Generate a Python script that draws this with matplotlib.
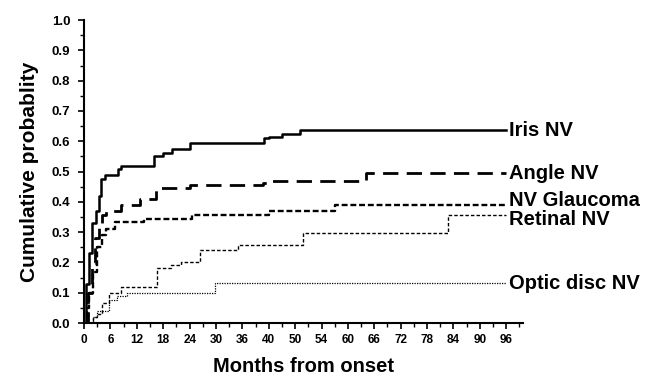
import matplotlib
matplotlib.use('Agg')
import matplotlib.pyplot as plt
from matplotlib.ticker import MultipleLocator

plt.rcParams['font.family'] = ['Liberation Sans', 'DejaVu Sans']

# step change points (months, cumulative probability)
iris_t = [0, 0.5, 1.0, 1.9, 2.7, 3.4, 3.8, 4.8, 7.8, 8.4, 16, 18, 20, 24, 41, 42, 45, 49, 96]
iris_p = [0, 0.13, 0.23, 0.33, 0.37, 0.42, 0.475, 0.49, 0.51, 0.52, 0.55, 0.56, 0.575, 0.594, 0.61, 0.615, 0.625, 0.636, 0.636]
angle_t = [0, 0.9, 1.7, 2.5, 3.3, 4.0, 5.0, 8.5, 12.7, 16.3, 24, 40.7, 42, 64, 96]
angle_p = [0, 0.098, 0.197, 0.28, 0.33, 0.355, 0.37, 0.39, 0.41, 0.445, 0.455, 0.462, 0.47, 0.494, 0.494]
glauc_t = [0, 0.6, 1.2, 2.0, 3.0, 4.0, 5.0, 7.0, 13.6, 24.5, 42, 57, 96]
glauc_p = [0, 0.05, 0.1, 0.17, 0.25, 0.29, 0.31, 0.333, 0.345, 0.355, 0.37, 0.39, 0.39]
retinal_t = [0, 2.1, 3.0, 4.0, 5.6, 8.5, 16.5, 19.8, 22, 26.4, 35, 49.8, 82.8, 96]
retinal_p = [0, 0.02, 0.03, 0.065, 0.1, 0.119, 0.18, 0.19, 0.2, 0.24, 0.256, 0.296, 0.355, 0.355]
optic_t = [0, 2.0, 3.0, 5.6, 7.5, 9.8, 29.8, 96]
optic_p = [0, 0.02, 0.04, 0.075, 0.09, 0.1, 0.131, 0.131]

xticks = list(range(0, 97, 6))
xtick_labels = ['0', '6', '12', '18', '24', '30', '36', '40', '50', '54', '60', '66', '72', '78', '84', '90', '96']

# name, data, line style, label offset (points)
series = [
    ('Iris NV', iris_t, iris_p, dict(ls='-', lw=1.8), 0),
    ('Angle NV', angle_t, angle_p, dict(ls=(0, (5.5, 3)), lw=2.0), 0),
    ('NV Glaucoma', glauc_t, glauc_p, dict(ls=(0, (2.5, 1.2)), lw=1.7), 3),
    ('Retinal NV', retinal_t, retinal_p, dict(ls=(0, (2.5, 1.5)), lw=1.0), -3),
    ('Optic disc NV', optic_t, optic_p, dict(ls=(0, (1, 1)), lw=0.9), 0),
]

fig = plt.figure(figsize=(6.52, 3.80), dpi=100)
ax = fig.add_axes([0.129, 0.15, 0.673, 0.797])

for name, t, p, style, dy in series:
    ax.step(t, p, where='post', color='black', **style)
    ax.annotate(name, (t[-1], p[-1]), xytext=(2, dy), textcoords='offset points',
                fontsize=14.5, fontweight='bold', va='center', ha='left')

ax.set_xlim(0, 99.8)
ax.set_ylim(0, 1.0)
ax.set_xticks(xticks)
ax.set_xticklabels(xtick_labels)
ax.xaxis.set_minor_locator(MultipleLocator(3))
ax.yaxis.set_major_locator(MultipleLocator(0.1))
ax.yaxis.set_minor_locator(MultipleLocator(0.05))
ax.set_yticklabels([f'{v:.1f}' for v in ax.get_yticks()])
for lab in ax.get_xticklabels() + ax.get_yticklabels():
    lab.set_fontweight('bold')
ax.tick_params(axis='both', which='major', length=4, width=1.2, direction='out')
ax.tick_params(axis='both', which='minor', length=3, width=1.0, direction='out')
ax.tick_params(axis='x', labelsize=8.5, pad=4)
ax.tick_params(axis='y', labelsize=9.5, pad=6)
for s in ['top', 'right']:
    ax.spines[s].set_visible(False)
for s in ['left', 'bottom']:
    ax.spines[s].set_linewidth(1.5)

ax.set_xlabel('Months from onset', fontsize=14.5, fontweight='bold', labelpad=8)
ax.set_ylabel('Cumulative probablity', fontsize=15, fontweight='bold', labelpad=9)

fig.savefig('out.png', dpi=100)
